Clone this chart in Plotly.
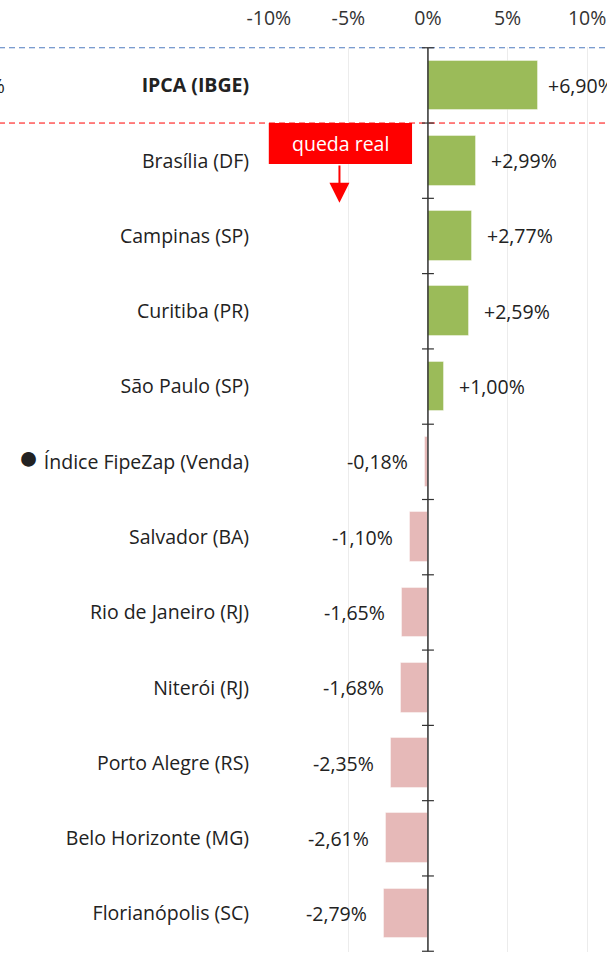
import plotly.graph_objects as go

cities = [
    "IPCA (IBGE)",
    "Brasília (DF)",
    "Campinas (SP)",
    "Curitiba (PR)",
    "São Paulo (SP)",
    "Índice FipeZap (Venda)",
    "Salvador (BA)",
    "Rio de Janeiro (RJ)",
    "Niterói (RJ)",
    "Porto Alegre (RS)",
    "Belo Horizonte (MG)",
    "Florianópolis (SC)",
]
values = [6.90, 2.99, 2.77, 2.59, 1.00, -0.18, -1.10, -1.65, -1.68, -2.35, -2.61, -2.79]
x_ticks = [-10, -5, 0, 5, 10]
x_tick_labels = ["-10%", "-5%", "0%", "5%", "10%"]

FONT = "Open Sans, Noto Sans, sans-serif"
FSIZE = 19.5
GREEN = "#9BBB59"
PINK = "#E6B9B8"


def fmt(v):
    return f"{v:+.2f}".replace(".", ",") + "%"


def tick_text(name):
    if name.startswith("IPCA"):
        return f"<b>{name}</b>"
    if name.startswith("Índice"):
        return f"<span style='font-size:34px'>●</span> {name}"
    return name


fig = go.Figure(
    go.Bar(
        x=values,
        y=cities,
        orientation="h",
        width=0.66,
        marker=dict(
            color=[GREEN if v >= 0 else PINK for v in values],
            line=dict(color="rgba(255,255,255,0.4)", width=1),
        ),
        hoverinfo="skip",
    )
)

# value labels next to the bars
annotations = []
for name, v in zip(cities, values):
    pos = v >= 0
    annotations.append(
        dict(
            x=v, y=name, text=fmt(v), showarrow=False,
            xanchor="left" if pos else "right",
            xshift=(8 if name.startswith("IPCA") else 13) if pos else -15,
            font=dict(size=FSIZE, color="#222"),
        )
    )

# clipped IPCA label at the far left
annotations.append(
    dict(x=-0.771, xref="paper", y=cities[0], text=fmt(values[0]), showarrow=False,
         xanchor="right", font=dict(size=FSIZE, color="#222"))
)

# "queda real" marker
box_top, box_bottom = 0.5, 0.5 + 41 / 75.4
annotations.append(
    dict(x=-5.5, y=(box_top + box_bottom) / 2, text="queda real", showarrow=False,
         font=dict(size=FSIZE, color="white"))
)
annotations.append(
    dict(x=-5.56, y=1.56, ax=-5.56, ay=box_bottom, axref="x", ayref="y",
         text="", showarrow=True, arrowhead=2, arrowsize=2, arrowwidth=2,
         arrowcolor="red")
)

n = len(cities)
shapes = [
    dict(type="rect", xref="x", yref="y", x0=-10, x1=-1.0, y0=box_top, y1=box_bottom,
         fillcolor="red", line=dict(width=0), layer="above"),
    dict(type="line", xref="paper", yref="y", x0=-1, x1=1.2, y0=-0.5, y1=-0.5,
         line=dict(color="#4F7BBF", width=1, dash="6px,4px")),
    dict(type="line", xref="paper", yref="y", x0=-1, x1=1.2, y0=0.5, y1=0.5,
         line=dict(color="red", width=1, dash="6px,4px")),
    dict(type="line", xref="x", yref="y", x0=0, x1=0, y0=-0.5, y1=n - 0.5,
         line=dict(color="#333", width=1.5)),
]
for k in range(n + 1):
    shapes.append(
        dict(type="line", xref="x", yref="y", x0=-0.375, x1=0.375, y0=k - 0.5, y1=k - 0.5,
             line=dict(color="#333", width=1.2))
    )

fig.update_layout(
    width=607,
    height=955,
    margin=dict(l=268, r=0, t=47, b=3),
    paper_bgcolor="white",
    plot_bgcolor="white",
    font=dict(family=FONT, size=FSIZE, color="#222"),
    showlegend=False,
    bargap=0,
    annotations=annotations,
    shapes=shapes,
    xaxis=dict(
        side="top",
        range=[-10.05, 11.25],
        tickvals=x_ticks,
        ticktext=x_tick_labels,
        showgrid=True,
        gridcolor="#ECECEC",
        gridwidth=1,
        zeroline=False,
        showline=False,
        ticks="outside",
        ticklen=13,
        tickcolor="rgba(0,0,0,0)",
        tickfont=dict(size=FSIZE, color="#333"),
        fixedrange=True,
    ),
    yaxis=dict(
        type="category",
        categoryorder="array",
        categoryarray=cities,
        tickvals=cities,
        ticktext=[tick_text(c) for c in cities],
        autorange="reversed",
        showgrid=False,
        zeroline=False,
        showline=False,
        ticks="outside",
        ticklen=14,
        tickcolor="rgba(0,0,0,0)",
        tickfont=dict(size=FSIZE, color="#222"),
        fixedrange=True,
    ),
)
fig.update_traces(cliponaxis=False)

fig.write_html(
    "out.html",
    config={"displayModeBar": False},
    post_script="document.body.style.margin='0';document.body.style.overflow='hidden';",
)
